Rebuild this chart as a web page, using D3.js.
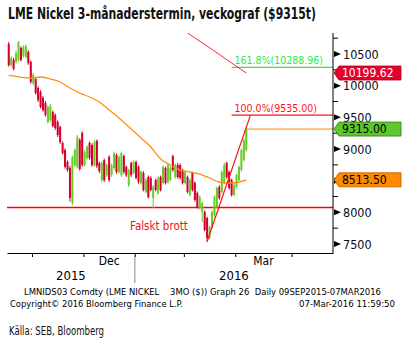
<!DOCTYPE html>
<html>
<head>
<meta charset="utf-8">
<script src="https://cdn.jsdelivr.net/npm/d3@7"></script>
<style>
  body { margin: 0; background: #fff; }
  svg { display: block; }
  text { font-family: "DejaVu Sans Condensed", "DejaVu Sans", sans-serif; font-stretch: condensed; }
  .title { font-weight: bold; }
  .foot { font-family: "DejaVu Sans", sans-serif; font-stretch: normal; }
</style>
</head>
<body>
<svg id="chart"></svg>
<script>
const W = 402, H = 341;

// trading calendar
const firstDay = "2015-10-19", lastDay = "2016-03-07", axisLastDay = "2016-04-29";
const holidays = ["2015-12-25", "2015-12-28", "2016-01-01"];

// daily OHLC, LME nickel 3M ($/t)
const opens = [10658,10326,10405,10374,10405,10595,10468,10453,10532,10374,
  10042,10105,9963,9900,9805,9726,9426,9458,9584,9537,
  9426,9348,9095,8984,8795,8700,8147,8747,8716,9142,
  9253,8747,8858,9095,9063,8747,9126,8779,8510,8826,
  8589,8874,8589,8700,8905,8637,8589,8890,8716,8432,
  8779,8621,8795,8716,8463,8621,8321,8558,8542,8226,
  8510,8305,8558,8463,8700,8479,8510,8890,8558,8747,
  8747,8668,8463,8558,8274,8621,8463,8305,8068,8005,
  8005,7910,7595,7768,7958,8084,8400,8321,8463,8779,
  8637,8510,8274,8400,8510,8668,8826,8984];
const closes = [10326,10437,10263,10516,10690,10405,10611,10626,10358,10058,
  10168,9884,9774,9663,9616,9537,9663,9679,9363,9332,
  9221,9110,8937,8716,8668,8226,8874,8984,9189,8684,
  8747,8953,9032,8858,8747,9110,8732,8653,8779,8510,
  8747,8510,8747,8937,8637,8874,8937,8637,8589,8668,
  8589,8795,8542,8479,8637,8353,8510,8242,8353,8400,
  8353,8542,8353,8716,8463,8747,8700,8668,8747,8558,
  8542,8463,8637,8321,8510,8353,8195,8084,8242,8147,
  7721,7595,7768,8005,8242,8384,8226,8637,8747,8558,
  8384,8274,8432,8589,8716,8984,9142,9315];
const highs = [10690,10470,10440,10550,10705,10620,10640,10650,10560,10400,
  10200,10130,9990,9930,9840,9760,9690,9710,9610,9560,
  9450,9370,9120,9010,8820,8730,8900,9010,9220,9170,
  9280,8980,9060,9120,9090,9140,9150,8800,8810,8850,
  8770,8900,8770,8960,8930,8900,8960,8910,8740,8690,
  8800,8820,8820,8740,8660,8650,8540,8580,8570,8432,
  8530,8570,8580,8740,8720,8780,8730,8910,8770,8780,
  8770,8690,8660,8580,8540,8640,8490,8330,8270,8170,
  8030,7930,7790,8030,8270,8410,8430,8660,8780,8800,
  8660,8530,8460,8610,8740,9010,9170,9360];
const lows = [10300,10300,10240,10350,10380,10380,10440,10430,10330,10030,
  10010,9860,9740,9640,9590,9510,9400,9430,9340,9300,
  9190,9080,8910,8690,8640,8170,8110,8720,8690,8660,
  8720,8720,8830,8830,8720,8720,8700,8620,8480,8480,
  8560,8480,8560,8670,8610,8610,8560,8610,8560,8400,
  8560,8600,8520,8450,8440,8330,8300,8220,8330,8068,
  8330,8280,8330,8440,8440,8450,8490,8640,8530,8530,
  8520,8440,8440,8300,8250,8330,8170,8060,8040,7847,
  7700,7532,7570,7740,7930,8060,8200,8300,8440,8530,
  8360,8250,8250,8380,8490,8640,8800,8960];

// orange moving average (bar index, value)
const maIdx = [0,9,13,17,21,25,29,33,37,41,45,50,54,58,62,66,70,74,78,82,86,90,94,97];
const maVal = [10168,10121,10137,10105,10058,9963,9884,9821,9742,9616,9490,9316,9174,9032,8842,8747,8668,8637,8605,8542,8479,8463,8479,8513.5];
// red moving average
const ma2Idx = [73,82,91,97];
const ma2Val = [10832,10600,10358,10199.62];

const supportLevel = 8075;
const trendFrom = [81, 7540], trendTo = [98.7, 9535];
const fibStart = 91;
const fibLevels = [
  { value: 10288.96, label: "161.8%(10288.96)", color: "#22ee44" },
  { value: 9535.00, label: "100.0%(9535.00)", color: "#ff1010" }
];
const lastPrice = 9315;
const callouts = [
  { value: 10199.62, label: "10199.62", fill: "#e8002d", stroke: "#b0001e", text: "#fff" },
  { value: 9315.00, label: "9315.00", fill: "#5cc82c", stroke: "#2f7a12", text: "#000" },
  { value: 8513.50, label: "8513.50", fill: "#ff8a00", stroke: "#b35c00", text: "#000" }
];
const yMajor = [7500, 8000, 8500, 9000, 9500, 10000, 10500];
const yMinor = [7750, 8250, 8750, 9250, 9750, 10250, 10750];
const monthLabels = [{ m: "2015-12", t: "Dec" }, { m: "2016-03", t: "Mar" }];
const years = ["2015", "2016"];

const plot = { left: 7, right: 333, top: 33, bottom: 253 };

const parse = d3.utcParse("%Y-%m-%d");
const fmt = d3.utcFormat("%Y-%m-%d");
const days = d3.utcDay.range(parse(firstDay), d3.utcDay.offset(parse(axisLastDay), 1))
  .filter((d) => d.getUTCDay() !== 0 && d.getUTCDay() !== 6 && !holidays.includes(fmt(d)));
const nBars = opens.length;

const x = d3.scaleLinear().domain([-0.7, 132.4]).range([plot.left, plot.right]);
const y = d3.scaleLinear().domain([7500, 10500]).range([244, 54]);

function firstIndexOf(month) {
  const m = d3.utcParse("%Y-%m")(month);
  return days.findIndex((d) => d >= m) - 0.5;
}
const monthTicks = ["2015-11", "2015-12", "2016-01", "2016-02", "2016-03", "2016-04"].map(firstIndexOf);

const svg = d3.select("#chart").attr("width", W).attr("height", H);

svg.append("defs").append("clipPath").attr("id", "clip")
  .append("rect")
  .attr("x", plot.left).attr("y", plot.top)
  .attr("width", plot.right - plot.left).attr("height", plot.bottom - plot.top);

svg.append("text").attr("class", "title")
  .attr("x", 8).attr("y", 19)
  .style("font-size", "15px").attr("fill", "#111")
  .attr("textLength", 308).attr("lengthAdjust", "spacingAndGlyphs")
  .text("LME Nickel 3-månaderstermin, veckograf ($9315t)");

const g = svg.append("g").attr("clip-path", "url(#clip)");

// support line
g.append("line")
  .attr("x1", plot.left).attr("x2", plot.right)
  .attr("y1", y(supportLevel)).attr("y2", y(supportLevel))
  .attr("stroke", "#ff0000").attr("stroke-width", 1.5);

// fib levels
fibLevels.forEach((f) => {
  g.append("line")
    .attr("x1", x(fibStart)).attr("x2", plot.right)
    .attr("y1", y(f.value)).attr("y2", y(f.value))
    .attr("stroke", f.color).attr("stroke-width", 1.2);
  svg.append("text")
    .attr("x", x(fibStart) + 3).attr("y", y(f.value) - 3)
    .attr("fill", f.color).style("font-size", "10.5px")
    .text(f.label);
});

// last price line
g.append("line")
  .attr("x1", x(nBars - 1)).attr("x2", plot.right)
  .attr("y1", y(lastPrice)).attr("y2", y(lastPrice))
  .attr("stroke", "#ff8a00").attr("stroke-width", 1);

// candles
const bars = d3.range(nBars).map((i) => ({ i, o: opens[i], c: closes[i], h: highs[i], l: lows[i] }));
const candle = g.selectAll(".bar").data(bars).enter().append("g").attr("class", "bar");
candle.append("line")
  .attr("x1", (d) => x(d.i)).attr("x2", (d) => x(d.i))
  .attr("y1", (d) => y(d.h)).attr("y2", (d) => y(d.l))
  .attr("stroke", (d) => (d.c >= d.o ? "#66cc2a" : "#d4002a"))
  .attr("stroke-width", 1);
candle.append("rect")
  .attr("x", (d) => x(d.i) - 1)
  .attr("width", 2)
  .attr("y", (d) => y(Math.max(d.o, d.c)))
  .attr("height", (d) => Math.max(1, Math.abs(y(d.o) - y(d.c))))
  .attr("fill", (d) => (d.c >= d.o ? "#66cc2a" : "#d4002a"));

// moving averages
const line = d3.line().x((d) => x(d[0])).y((d) => y(d[1])).curve(d3.curveMonotoneX);
g.append("path")
  .datum(maIdx.map((v, k) => [v, maVal[k]]))
  .attr("d", line).attr("fill", "none")
  .attr("stroke", "#ff9010").attr("stroke-width", 1.3);
g.append("path")
  .datum(ma2Idx.map((v, k) => [v, ma2Val[k]]))
  .attr("d", line).attr("fill", "none")
  .attr("stroke", "#ff2040").attr("stroke-width", 1);

// trend line
g.append("line")
  .attr("x1", x(trendFrom[0])).attr("y1", y(trendFrom[1]))
  .attr("x2", x(trendTo[0])).attr("y2", y(trendTo[1]))
  .attr("stroke", "#ff1010").attr("stroke-width", 1.2);

svg.append("text")
  .attr("x", 130).attr("y", 230)
  .attr("fill", "#ee1020").style("font-size", "11.5px")
  .text("Falskt brott");

// right axis
const yAxisG = svg.append("g").attr("transform", "translate(" + plot.right + ",0)");
yAxisG.append("line")
  .attr("y1", plot.top).attr("y2", plot.bottom)
  .attr("stroke", "#000");
yAxisG.selectAll(".minor").data(yMinor).enter().append("line")
  .attr("x1", 0).attr("x2", 5)
  .attr("y1", (d) => y(d)).attr("y2", (d) => y(d))
  .attr("stroke", "#000");
yAxisG.selectAll(".tri").data(yMajor).enter().append("path")
  .attr("d", (d) => "M1," + (y(d) - 3) + "L8," + y(d) + "L1," + (y(d) + 3) + "Z")
  .attr("fill", "#000");
yAxisG.selectAll(".lab").data(yMajor).enter().append("text")
  .attr("x", 10).attr("y", (d) => y(d)).attr("dy", "0.36em")
  .attr("fill", "#0a0a20").style("font-size", "12.5px")
  .text((d) => d);

// callouts
callouts.forEach((c) => {
  const cy = y(c.value);
  svg.append("path")
    .attr("d", "M" + (plot.right + 1) + "," + cy + "L" + (plot.right + 6) + "," + (cy - 7) +
      "L401," + (cy - 7) + "L401," + (cy + 7) + "L" + (plot.right + 6) + "," + (cy + 7) + "Z")
    .attr("fill", c.fill).attr("stroke", c.stroke).attr("stroke-width", 0.8);
  svg.append("text")
    .attr("x", plot.right + 9).attr("y", cy).attr("dy", "0.35em")
    .attr("fill", c.text).style("font-size", "12px")
    .text(c.label);
});

// bottom axis
const xAxis = d3.axisBottom(x).tickValues(monthTicks).tickSize(4).tickSizeOuter(0).tickFormat("");
const xAxisG = svg.append("g").attr("transform", "translate(0," + plot.bottom + ")").call(xAxis);
xAxisG.select(".domain").attr("stroke", "#000");
xAxisG.selectAll(".tick line").attr("stroke", "#000");

monthLabels.forEach((ml) => {
  const a = firstIndexOf(ml.m);
  const nextMonth = d3.utcFormat("%Y-%m")(d3.utcMonth.offset(d3.utcParse("%Y-%m")(ml.m), 1));
  const b = firstIndexOf(nextMonth);
  svg.append("text")
    .attr("x", (x(a) + x(b)) / 2).attr("y", 265)
    .attr("text-anchor", "middle").style("font-size", "12px").attr("fill", "#000")
    .text(ml.t);
});

const yearBreak = x(firstIndexOf("2016-01"));
svg.append("line")
  .attr("x1", yearBreak).attr("x2", yearBreak)
  .attr("y1", plot.bottom + 2).attr("y2", 283)
  .attr("stroke", "#888");
svg.append("text")
  .attr("x", (plot.left + yearBreak) / 2).attr("y", 280)
  .attr("text-anchor", "middle").style("font-size", "13px").attr("fill", "#000")
  .text(years[0]);
svg.append("text")
  .attr("x", (yearBreak + plot.right) / 2).attr("y", 280)
  .attr("text-anchor", "middle").style("font-size", "13px").attr("fill", "#000")
  .text(years[1]);

// footer
svg.append("text").attr("class", "foot")
  .attr("x", 24).attr("y", 295).style("font-size", "8.5px").attr("fill", "#000")
  .attr("xml:space", "preserve")
  .attr("textLength", 357).attr("lengthAdjust", "spacingAndGlyphs")
  .text("LMNIDS03 Comdty (LME NICKEL    3MO ($)) Graph 26  Daily 09SEP2015-07MAR2016");
svg.append("text").attr("class", "foot")
  .attr("x", 10).attr("y", 307).style("font-size", "8.5px").attr("fill", "#000")
  .attr("textLength", 173).attr("lengthAdjust", "spacingAndGlyphs")
  .text("Copyright\u00a9 2016 Bloomberg Finance L.P.");
svg.append("text").attr("class", "foot")
  .attr("x", 299).attr("y", 307).style("font-size", "8.5px").attr("fill", "#000")
  .attr("textLength", 96).attr("lengthAdjust", "spacingAndGlyphs")
  .text("07-Mar-2016 11:59:50");

svg.append("text")
  .attr("x", 9).attr("y", 335).style("font-size", "12px").attr("fill", "#111")
  .attr("textLength", 95).attr("lengthAdjust", "spacingAndGlyphs")
  .text("Källa: SEB, Bloomberg");
</script>
</body>
</html>
